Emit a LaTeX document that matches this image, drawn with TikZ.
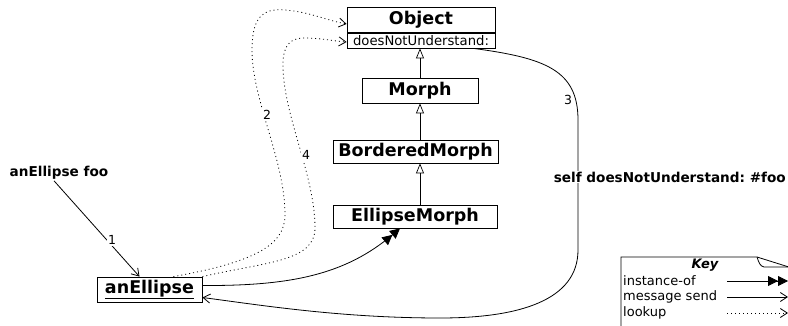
\documentclass[tikz,border=0pt]{standalone}
\usepackage{fontspec}
\setmainfont{DejaVu Sans}
\usetikzlibrary{arrows.meta,calc}
\frenchspacing
\begin{document}
\begin{tikzpicture}[x=1pt,y=-1pt,
  cls/.style={draw,line width=0.8pt,inner sep=0pt,font=\fontsize{17.5}{20}\selectfont\bfseries},
  meth/.style={draw,line width=0.8pt,inner sep=0pt,font=\fontsize{13.2}{15}\selectfont},
  msgtext/.style={font=\fontsize{13.6}{16}\selectfont\bfseries,inner sep=1pt},
  numlab/.style={font=\fontsize{12.5}{14}\selectfont,fill=white,inner sep=1pt},
  keytext/.style={font=\fontsize{13}{15}\selectfont,anchor=west,inner sep=0pt},
  inherit/.style={line width=0.7pt,-{Triangle[open,length=10pt,width=8pt]}},
  msg/.style={line width=0.8pt,-{Straight Barb[length=7pt,width=9pt]}},
  lookup/.style={line width=0.8pt,dash pattern=on 1pt off 3pt,-{Straight Barb[length=7pt,width=9pt,line width=0.8pt,sep=0pt]}},
  inst/.style={line width=0.8pt,-{Triangle[length=10pt,width=10pt]Triangle[length=10pt,width=10pt]}}
]
\useasboundingbox (0,0) rectangle (788,326);

% classes
\node[cls,minimum width=148pt,minimum height=25pt] (objhead) at (421,19.5) {Object};
\node[meth,minimum width=148pt,minimum height=15pt] (objdnu) at (421,40.5) {doesNotUnderstand:};
\node[cls,minimum width=116pt,minimum height=25pt] (morph) at (420,90.5) {Morph};
\node[cls,minimum width=165pt,minimum height=23pt] (bordered) at (415.5,151.5) {BorderedMorph};
\node[cls,minimum width=164pt,minimum height=23pt] (ellipsemorph) at (415,216.5) {EllipseMorph};
\node[cls,minimum width=105pt,minimum height=25pt] (anellipse) at (149.5,289.5) {\underline{anEllipse}};

% inheritance
\draw[inherit] (ellipsemorph.north -| morph.north) -- (bordered.south -| morph.north);
\draw[inherit] (bordered.north -| morph.north) -- (morph.south);
\draw[inherit] (morph.north) -- (objdnu.south -| morph.north);

% message 1
\node[msgtext] (send) at (59,173) {anEllipse foo};
\draw[msg] ([xshift=-5pt]send.south) -- ([xshift=-10pt]anellipse.north);
\node[numlab] (l1) at (112,240) {1};

% lookup 2
\draw[lookup] ([xshift=-29pt]anellipse.north east)
  .. controls (255,262) and (285,245) .. (285,215)
  .. controls (285,160) and (252,100) .. (252,50)
  .. controls (252,18) and (262,8) .. (285,10)
  .. controls (310,12) and (325,20) .. ([yshift=-4.5pt]objhead.west);
\node[numlab] (l2) at (267,115) {2};

% lookup 4
\draw[lookup] (anellipse.north east)
  .. controls (265,262) and (315,262) .. (315,228)
  .. controls (315,175) and (283,115) .. (283,65)
  .. controls (283,45) and (290,38) .. (305,38)
  .. controls (320,38) and (333,41) .. ([yshift=-1.5pt]objdnu.west);
\node[numlab] (l4) at (306,155) {4};

% message 3
\draw[msg] ([xshift=-22pt]objdnu.south east)
  .. controls (545,58) and (578,70) .. (578,120)
  -- (578,250)
  .. controls (578,300) and (520,318) .. (440,318)
  .. controls (340,318) and (260,305) .. ([yshift=-8pt]anellipse.east);
\node[numlab] (l3) at (568,100) {3};
\node[msgtext,fill=white,anchor=east] (dnu) at (787,177) {self doesNotUnderstand: \#foo};

% instance-of
\draw[inst] ([yshift=4pt]anellipse.east)
  .. controls (290,286) and (345,275) .. ([xshift=-15pt]ellipsemorph.south);

% key
\draw[line width=0.8pt] (621,330) -- (621,257) -- (757,257) -- (792,268);
\draw[line width=0.8pt] (757,257) .. controls (759,263) and (760,266) .. (764,267) -- (792,267);
\node[font=\fontsize{13}{15}\selectfont\bfseries\itshape,inner sep=0pt] (keyt) at (705,265) {Key};
\node[keytext] (k1) at (623,281) {instance-of};
\node[keytext] (k2) at (623,297) {message send};
\node[keytext] (k3) at (623,313) {lookup};
\coordinate (k1a) at (727,281); \coordinate (k1b) at (788,281);
\coordinate (k2a) at (727,297); \coordinate (k2b) at (788,297);
\coordinate (k3a) at (727,313); \coordinate (k3b) at (788,313);
\draw[inst] (k1a) -- (k1b);
\draw[msg] (k2a) -- (k2b);
\draw[lookup] (k3a) -- (k3b);
\end{tikzpicture}
\end{document}
